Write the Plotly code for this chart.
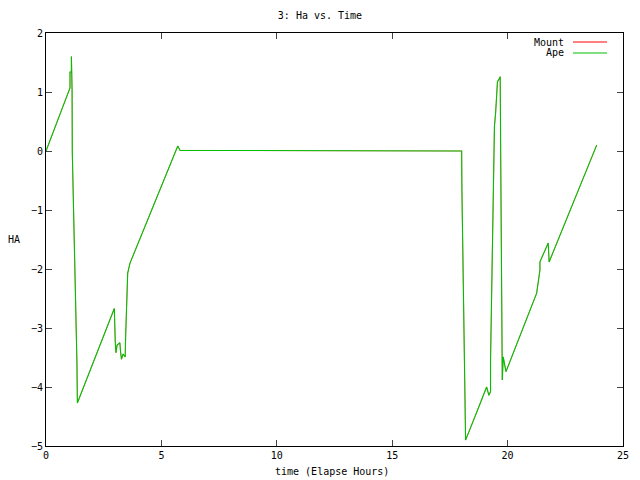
import plotly.graph_objects as go

# Data (hours vs HA)
hours = [0.0, 1.04, 1.04, 1.10, 1.10, 1.13, 1.14, 1.19, 1.25, 1.34, 1.36,
         2.96, 3.00, 3.03, 3.08, 3.20, 3.23, 3.27, 3.34, 3.43, 3.45, 3.49, 3.54, 3.64,
         4.43, 5.71, 5.81, 18.01, 18.02, 18.06, 18.10, 18.14, 18.18,
         18.73, 19.09, 19.19, 19.26, 19.26, 19.30, 19.35, 19.39, 19.43, 19.48, 19.56,
         19.63, 19.68, 19.70, 19.74, 19.77, 19.81, 19.88, 19.93,
         21.26, 21.33, 21.40, 21.40, 21.76, 21.80, 23.86]
mount_ha = [0.0, 1.07, 1.34, 1.34, 1.60, 1.03, -0.03, -0.80, -2.20, -3.58, -4.27,
            -2.67, -3.23, -3.42, -3.29, -3.25, -3.40, -3.53, -3.44, -3.49, -3.15, -2.44, -2.07, -1.90,
            -1.14, 0.085, 0.01, 0.0, -0.63, -1.96, -3.17, -4.33, -4.90,
            -4.36, -4.00, -4.14, -4.08, -3.57, -2.55, -1.44, -0.23, 0.42, 0.64, 1.17,
            1.22, 1.26, -0.04, -2.61, -3.88, -3.49, -3.68, -3.74,
            -2.41, -2.21, -2.02, -1.88, -1.56, -1.88, 0.10]
ape_ha = [0.0, 1.07, 1.34, 1.34, 1.60, 1.03, -0.03, -0.80, -2.20, -3.58, -4.27,
          -2.67, -3.23, -3.42, -3.29, -3.25, -3.40, -3.53, -3.44, -3.49, -3.15, -2.44, -2.07, -1.90,
          -1.14, 0.085, 0.01, 0.0, -0.63, -1.96, -3.17, -4.33, -4.90,
          -4.36, -4.00, -4.14, -4.08, -3.57, -2.55, -1.44, -0.23, 0.42, 0.64, 1.17,
          1.22, 1.26, -0.04, -2.61, -3.88, -3.49, -3.68, -3.74,
          -2.41, -2.21, -2.02, -1.88, -1.56, -1.88, 0.10]

x_ticks = [0, 5, 10, 15, 20, 25]
y_ticks = [-5, -4, -3, -2, -1, 0, 1, 2]

series_names = ["Mount", "Ape"]
series_colors = ["#ff0000", "#00c000"]
series_widths = [0.5, 1.1]

FONT = "DejaVu Sans Mono"

fig = go.Figure()
for name, ys, col, w in zip(series_names, [mount_ha, ape_ha], series_colors, series_widths):
    fig.add_trace(go.Scatter(x=hours, y=ys, mode="lines", name=name,
                             line=dict(color=col, width=w), showlegend=False))

fig.update_layout(
    width=640, height=480,
    margin=dict(l=46, r=17, t=33, b=34, autoexpand=False),
    paper_bgcolor="white", plot_bgcolor="white",
    font=dict(family=FONT, size=10, color="black"),
    title=dict(text="3: Ha vs. Time", x=0.5, xanchor="center", y=0.968, yanchor="middle",
               font=dict(family=FONT, size=10, color="black")),
    xaxis=dict(range=[0, 25], tickvals=x_ticks, ticks="inside", ticklen=6,
               showline=True, linecolor="black", linewidth=1, mirror="ticks",
               showgrid=False, zeroline=False, tickfont=dict(size=10), automargin=False),
    yaxis=dict(range=[-5, 2], tickvals=y_ticks, ticks="inside", ticklen=6,
               showline=True, linecolor="black", linewidth=1, mirror="ticks",
               showgrid=False, zeroline=False, tickfont=dict(size=10), automargin=False),
)

# x-axis label
fig.add_annotation(text="time (Elapse Hours)", xref="paper", yref="paper",
                   x=(332 - 46) / 577, y=-(471 - 446) / 413,
                   xanchor="center", yanchor="middle", showarrow=False,
                   font=dict(family=FONT, size=10))

# y-axis label (horizontal, like gnuplot)
fig.add_annotation(text="HA", xref="paper", yref="paper", x=-0.055, y=0.5,
                   xanchor="center", yanchor="middle", showarrow=False,
                   font=dict(family=FONT, size=10))

# gnuplot-style legend: text right-aligned, then line sample
for i, (name, col) in enumerate(zip(series_names, series_colors)):
    ypos = 1 - (9 + 11 * i) / 413
    fig.add_annotation(text=name, xref="paper", yref="paper", x=(566 - 46) / 577, y=ypos,
                       xanchor="right", yanchor="middle", showarrow=False,
                       font=dict(family=FONT, size=10))
    fig.add_shape(type="line", xref="paper", yref="paper",
                  x0=(573 - 46) / 577, x1=(607 - 46) / 577, y0=ypos, y1=ypos,
                  line=dict(color=col, width=1))

fig.write_html("out.html", config={"displayModeBar": False},
               post_script="document.body.style.margin='0';")
